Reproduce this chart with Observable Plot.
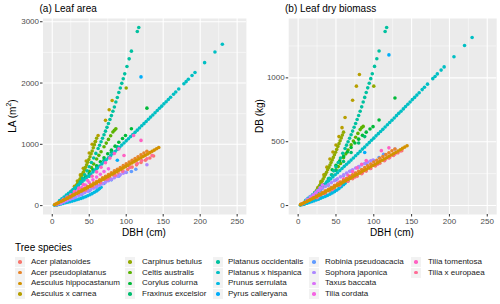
<!DOCTYPE html>
<html><head><meta charset="utf-8">
<script src="https://cdn.jsdelivr.net/npm/d3@7"></script>
<script src="https://cdn.jsdelivr.net/npm/@observablehq/plot@0.6"></script>
<style>
body{margin:0;background:#fff;font-family:"Liberation Sans",Arial,Helvetica,sans-serif;}
#wrap{position:relative;width:500px;height:304px;overflow:hidden;background:#fff;}
.panel{position:absolute;top:0;}
.t{position:absolute;white-space:nowrap;color:#000;}
.ylab{position:absolute;white-space:nowrap;font-size:10px;transform:translate(-50%,-50%) rotate(-90deg);}
.ylab sup{font-size:7px;line-height:0;}
.key{position:absolute;width:10px;height:10px;background:#F2F2F2;}
.kd{position:absolute;width:3.6px;height:3.6px;border-radius:50%;}
.lt{position:absolute;font-size:8px;line-height:10px;color:#1a1a1a;white-space:nowrap;}
</style></head>
<body><div id="wrap"></div>
<script>
const species=["Acer platanoides","Acer pseudoplatanus","Aesculus hippocastanum","Aesculus x carnea","Carpinus betulus","Celtis australis","Corylus colurna","Fraxinus excelsior","Platanus occidentalis","Platanus x hispanica","Prunus serrulata","Pyrus calleryana","Robinia pseudoacacia","Sophora japonica","Taxus baccata","Tilia cordata","Tilia tomentosa","Tilia x europaea"];
const colors=["#F8766D","#E8852A","#D39200","#B79F00","#93AA00","#5BB300","#00BA38","#00BE70","#00C1A0","#00BFC4","#00B9E2","#00ADFA","#619CFF","#AC88FF","#DA71F9","#F564E3","#FF61C3","#FF6B96"];
// drawing order of the species (orange series on top, as in the reference)
const drawOrder=[0,3,4,5,6,7,8,9,10,11,12,13,14,15,16,17,1,2];

const xMajor=[0,50,100,150,200,250];
const xMinor=[25,75,125,175,225];
const laMajor=[0,1000,2000,3000];
const laMinor=[500,1500,2500];
const dbMajor=[0,500,1000];
const dbMinor=[250,750,1250];

// Acer platanoides
const apD=[18,24,30,36,42,48,54,60,66,72,78,84,90,96,102,108,114,120,126,132,137];
const apLA=[93,126,160,194,230,264,300,335,372,408,444,481,518,554,590,628,665,703,740,778,809];
const apDB=[37,55,74,93,112,131,150,170,190,210,230,250,270,290,310,331,351,372,392,413,430];
// Acer pseudoplatanus
const apsD=[4,8,12,16,20,24,28,32,36,40,44,48,52,56,60,64,68,72,76,80,84,88,92,96,100,104,108,112,116,120,124,128];
const apsLA=[22,46,71,96,122,148,175,202,229,256,284,311,339,367,394,423,452,480,508,537,566,594,623,652,681,710,740,768,798,828,857,886];
const apsDB=[11,23,36,48,61,74,88,101,115,128,142,156,170,184,197,212,226,240,254,269,283,297,312,326,341,355,370,384,399,414,429,443];
// Aesculus hippocastanum
const ahD=[3,6,9,12,15,18,21,24,27,30,33,36,39,42,45,48,51,54,57,60,63,66,69,72,75,78,81,84,87,90,93,96,99,102,105,108,111,114,117,120,123,126,129,132,135,138,141,144];
const ahLA=[15,32,49,67,85,103,122,140,159,178,197,216,235,255,274,293,313,333,353,372,393,413,432,453,472,493,513,534,554,575,595,615,636,656,677,698,718,739,760,781,801,822,843,864,885,906,927,948];
const ahDB=[7,16,24,33,42,51,60,69,79,88,97,107,116,126,135,145,155,164,174,184,194,204,213,224,233,244,253,264,274,284,294,304,314,324,334,345,355,365,375,386,396,406,416,427,437,448,458,468];
// Aesculus x carnea
const acD=[10,14,18,22,26,30,34,38,42,46,50,54,58,62,72,77,81];
const acLA=[36,70,115,170,237,314,401,501,609,729,859,1000,1040,1145,1391,1565,1715];
const acDB=[22,42,69,102,142,188,241,301,365,420,474,540,610,690,825,935,1026];
// Carpinus betulus
const cbD=[6,7.5,9,10.5,12,13.5,15,16.5,18,19.5,21,22.5,24,25.5,27,28.5,30,31.5,33,34.5,36,37.5,39,40.5,42,43.5,45,46.5,48,49.5,51,52.5,54,55.5,57,58.5,60,100];
const cbLA=[12,18,26,35,46,58,72,86,103,120,139,159,181,204,228,253,280,309,339,369,402,435,471,506,544,583,624,665,707,753,798,845,892,943,994,1045,1098,1920];
const cbDB=[8,12,17,23,30,38,46,56,66,77,89,102,115,129,143,159,175,191,208,225,243,261,280,299,318,337,357,377,397,418,440,462,485,507,530,552,575,935];
// Celtis australis
const caD=[15,20,25,30,35,40,45,50,53,56,60,63,66,70,73,76,79,82,84,86];
const caLA=[100,150,205,265,330,400,475,560,620,680,760,820,880,960,1020,1080,1140,1200,1230,1255];
const caDB=[50,75,103,133,165,200,238,280,305,330,375,405,435,475,505,535,565,595,610,620];
// Corylus colurna
const ccD=[45,50,55,60,65,70,75,80,85,90,95,99,107,128];
const ccLA=[460,520,585,650,715,780,845,905,970,1035,1095,1145,1255,1590];
const ccDB=[280,315,350,385,420,455,490,520,550,575,600,618,670,842];
// Fraxinus excelsior
const feD=[30,40,50,60,70,80,88];
const feLA=[250,360,480,610,740,870,960];
const feDB=[150,210,275,345,415,490,540];
// Platanus occidentalis
const poD=[8,11,14,17,20,23,26,29,32,35,38,41,44,47,50,53,56,59,62,64,66,68,70,72,74,76,78,80,82,84,86,88,90,92,94,96,98,101,104,107,115,117];
const poLA=[24,42,65,92,123,158,196,239,285,334,388,444,503,567,633,703,776,852,931,985,1041,1098,1156,1215,1277,1340,1404,1469,1540,1610,1690,1765,1845,1920,1995,2070,2150,2270,2395,2520,2840,2905];
const poDB=[12,20,31,44,59,76,94,115,137,160,186,213,241,272,304,337,372,409,447,473,500,527,555,583,613,643,674,705,739,773,811,847,886,922,958,994,1032,1090,1150,1210,1363,1394];
// Platanus x hispanica
const phD=[10,13,16,19,22,25,28,31,34,37,40,43,46,49,52,55,58,61,64,67,70,73,76,79,82,85,88,91,94,97,100,103,106,109,112,115,118,121,124,127,130,133,136,139,142,145,148,151,154,157,160,164,167,171,178,181,184,189,193,206,220,230];
const phLA=[84,113,141,171,201,231,261,292,323,355,387,418,450,483,515,548,581,614,647,681,713,747,781,815,849,884,917,952,987,1022,1057,1092,1126,1160,1195,1231,1267,1302,1337,1373,1408,1444,1479,1515,1551,1588,1623,1660,1695,1731,1768,1816,1853,1902,1989,2023,2062,2122,2172,2333,2507,2633];
const phDB=[42,56,70,85,100,115,130,146,161,177,193,209,225,241,257,274,290,307,323,340,356,373,390,407,424,442,458,476,493,511,528,546,563,580,597,615,633,651,668,686,704,722,739,757,775,794,811,830,847,865,884,908,926,951,994,1011,1031,1061,1086,1166,1253,1316];
// Prunus serrulata
const psD=[3,6,9,12,15,18,21,24,27,30,33,36,39,42,45,48,51,54,57,60,62,64,66];
const psLA=[5,12,20,28,37,46,55,64,74,84,95,106,118,131,145,160,177,196,217,240,258,278,300];
const psDB=[3,8,14,19,25,31,37,44,50,57,65,72,80,89,99,109,120,133,148,163,175,189,205];
// Pyrus calleryana
const pcD=[88,120];
const pcLA=[740,2100];
const pcDB=[415,1180];
// Robinia pseudoacacia
const rpD=[30,40,50,60,70,80,90,100,107,113];
const rpLA=[128,180,240,300,360,420,480,540,556,594];
const rpDB=[125,160,200,236,270,300,328,352,376,402];
// Sophora japonica
const sjD=[12,16,20,24,28,32,36,40,44,48,52,56,60,64,68,72,76,80,84,88,92,96,99,128];
const sjLA=[40,60,80,100,120,142,164,188,212,236,260,285,309,333,357,381,405,430,454,478,502,527,545,666];
const sjDB=[50,68,85,103,119,135,150,165,180,195,210,225,240,254,268,281,294,306,318,329,340,350,357,442];
// Taxus baccata
const tbD=[5,8,11,14,17,20,23,26,29,32];
const tbLA=[15,28,44,62,82,104,128,154,182,212];
const tbDB=[12,22,34,48,63,80,98,118,139,161];
// Tilia cordata
const tcD=[15,20,25,30,35,40,45,50,55,60,65,70,76];
const tcLA=[105,140,178,215,255,295,335,378,420,465,510,555,600];
const tcDB=[44,59,75,90,107,124,141,159,176,195,214,233,252];
// Tilia tomentosa
const ttD=[30,36,42,48,54,60,66,72,78,84,90,97,110,120];
const ttLA=[230,285,345,410,478,550,625,700,775,850,925,818,1145,1064];
const ttDB=[90,110,132,156,182,209,237,266,295,323,352,320,430,452];
// Tilia x europaea
const teD=[25,35,45,55,65,75,85,95,105,115,121,128,135];
const teLA=[134,193,252,313,374,434,497,559,623,686,736,764,818];
const teDB=[62,94,125,157,190,223,257,290,324,358,376,403,427];

const sD=[apD,apsD,ahD,acD,cbD,caD,ccD,feD,poD,phD,psD,pcD,rpD,sjD,tbD,tcD,ttD,teD];
const sLA=[apLA,apsLA,ahLA,acLA,cbLA,caLA,ccLA,feLA,poLA,phLA,psLA,pcLA,rpLA,sjLA,tbLA,tcLA,ttLA,teLA];
const sDB=[apDB,apsDB,ahDB,acDB,cbDB,caDB,ccDB,feDB,poDB,phDB,psDB,pcDB,rpDB,sjDB,tbDB,tcDB,ttDB,teDB];

const rows=[];
drawOrder.forEach(i=>sD[i].forEach((d,j)=>rows.push({species:species[i],dbh:d,la:sLA[i][j],db:sDB[i][j]})));

const FONT='"Liberation Sans",Arial,Helvetica,sans-serif';
function panel(yField,yDomain,major,minor,ml,mr){
  return Plot.plot({
    width:250,height:245,marginLeft:ml,marginRight:mr,marginTop:18,marginBottom:31,
    style:{fontFamily:FONT,background:"transparent",overflow:"visible"},
    x:{domain:[-12.5,262.5]},
    y:{domain:yDomain},
    color:{domain:species,range:colors},
    marks:[
      Plot.frame({fill:"#EBEBEB",stroke:"none"}),
      Plot.ruleX(xMinor,{stroke:"#fff",strokeWidth:0.5}),
      Plot.ruleY(minor,{stroke:"#fff",strokeWidth:0.5}),
      Plot.ruleX(xMajor,{stroke:"#fff",strokeWidth:1.1}),
      Plot.ruleY(major,{stroke:"#fff",strokeWidth:1.1}),
      Plot.dot(rows,{x:"dbh",y:yField,fill:"species",r:1.8}),
      Plot.axisX(xMajor,{tickSize:2.5,tickPadding:1.5,fontSize:8,fill:"#4D4D4D",stroke:"#333",label:null,tickFormat:d=>String(d)}),
      Plot.axisY(major,{tickSize:2.5,tickPadding:1.5,fontSize:8,fill:"#4D4D4D",stroke:"#333",label:null,tickFormat:d=>String(d)})
    ]
  });
}
const wrap=document.getElementById("wrap");
const pa=panel("la",[-145,3053],laMajor,laMinor,42.5,4.1);
const pb=panel("db",[-70,1465],dbMajor,dbMinor,38.2,3.8);
const da=document.createElement("div");da.className="panel";da.style.left="0px";da.appendChild(pa);wrap.appendChild(da);
const db=document.createElement("div");db.className="panel";db.style.left="250px";db.appendChild(pb);wrap.appendChild(db);

function addText(txt,x,y,size,cls){const e=document.createElement("div");e.className=cls||"t";e.textContent=txt;e.style.left=x+"px";e.style.top=y+"px";if(size)e.style.fontSize=size+"px";wrap.appendChild(e);return e;}
addText("(a) Leaf area",39.5,3,10);
addText("(b) Leaf dry biomass",285,3,10);
const xa=addText("DBH (cm)",144,227,10);xa.style.transform="translateX(-50%)";
const xb=addText("DBH (cm)",392,227,10);xb.style.transform="translateX(-50%)";
const ya=addText("",11.5,116,null,"ylab");
ya.append("LA (m");const sup=document.createElement("sup");sup.textContent="2";ya.append(sup);ya.append(")");
const yb=addText("DB (kg)",259,116,null,"ylab");

addText("Tree species",15,242,10);
const dotX=[20,130,218,314,416];
const txtX=[31,142,228,325,428];
species.forEach((s,i)=>{
  const c=Math.floor(i/4), r=i%4;
  const cy=262+r*10.7;
  const k=document.createElement("div");k.className="key";k.style.left=(dotX[c]-5)+"px";k.style.top=(cy-5)+"px";wrap.appendChild(k);
  const d=document.createElement("div");d.className="kd";d.style.background=colors[i];d.style.left=(dotX[c]-1.8)+"px";d.style.top=(cy-1.8)+"px";wrap.appendChild(d);
  const t=document.createElement("div");t.className="lt";t.textContent=s;t.style.left=txtX[c]+"px";t.style.top=(cy-5)+"px";wrap.appendChild(t);
});
</script>
</body></html>
